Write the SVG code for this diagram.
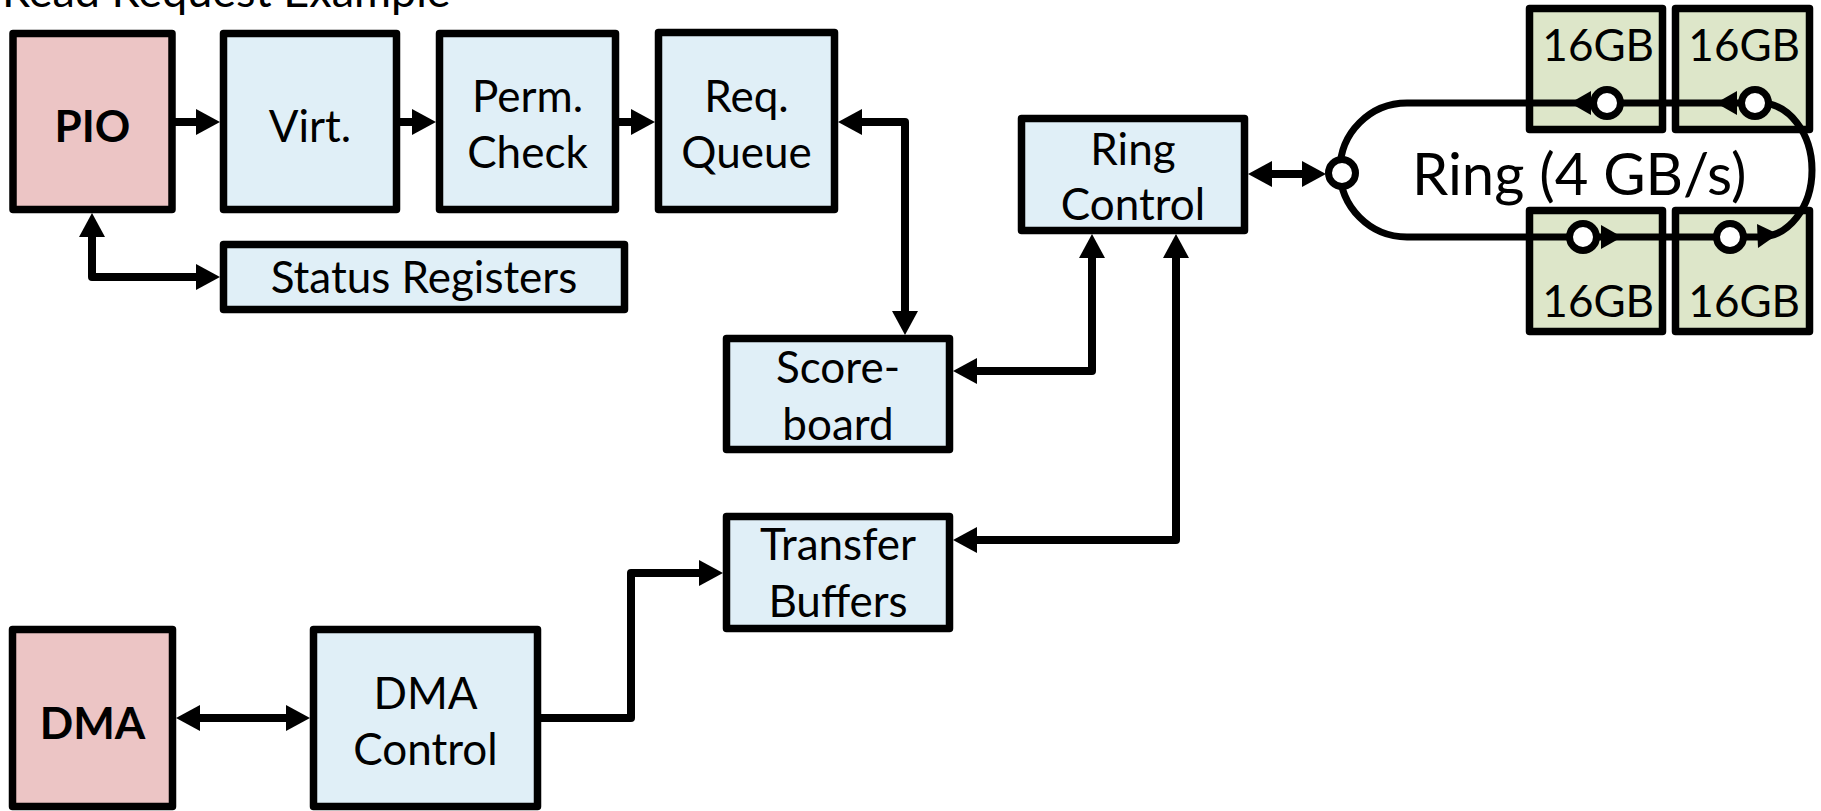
<svg xmlns="http://www.w3.org/2000/svg" width="1821" height="811" viewBox="0 0 1821 811">
<style>
.box{stroke:#000;stroke-width:7.5;stroke-linejoin:round}
.pink{fill:#ecc5c5}
.blue{fill:#e0eff7}
.green{fill:#dde6c9}
.t{font-family:Lato,"Open Sans","Liberation Sans",sans-serif;font-size:44px;fill:#000;text-anchor:middle}
.b{font-weight:bold}
.e{text-anchor:end}
.c{fill:none;stroke:#000;stroke-width:8;stroke-linejoin:round}
.ring{fill:none;stroke:#000;stroke-width:7}
.node{fill:#fff;stroke:#000;stroke-width:7}
</style>
<defs>
<marker id="ah" viewBox="0 0 24 26" refX="10" refY="13" markerWidth="24" markerHeight="26" markerUnits="userSpaceOnUse" orient="auto-start-reverse">
<path d="M0,0 L24,13 L0,26 Z" fill="#000"/>
</marker>
</defs>
<text class="t" x="2" y="7" style="text-anchor:start;font-size:45px">Read Request Example</text>

<g id="connectors">
<path class="c" d="M172 122 H206" marker-end="url(#ah)"/>
<path class="c" d="M397 122 H422" marker-end="url(#ah)"/>
<path class="c" d="M616 122 H641" marker-end="url(#ah)"/>
<path class="c" d="M852 122 H905 V321" marker-start="url(#ah)" marker-end="url(#ah)"/>
<path class="c" d="M92 227 V277 H206" marker-start="url(#ah)" marker-end="url(#ah)"/>
<path class="c" d="M967 371 H1092 V248" marker-start="url(#ah)" marker-end="url(#ah)"/>
<path class="c" d="M967 540 H1176 V248" marker-start="url(#ah)" marker-end="url(#ah)"/>
<path class="c" d="M1262 174 H1312" marker-start="url(#ah)" marker-end="url(#ah)"/>
<path class="c" d="M190 718 H296" marker-start="url(#ah)" marker-end="url(#ah)"/>
<path class="c" d="M538 718 H631 V573 H709" marker-end="url(#ah)"/>
</g>

<g id="pio"><rect class="box pink" x="13" y="33.5" width="159" height="176"/><text class="t b" x="92.5" y="142">PIO</text></g>
<g id="virt"><rect class="box blue" x="223.5" y="33.5" width="173" height="176"/><text class="t" x="310" y="142">Virt.</text></g>
<g id="perm"><rect class="box blue" x="439.5" y="33.5" width="176" height="176"/><text class="t" x="527.5" y="112">Perm.</text><text class="t" x="527.5" y="168">Check</text></g>
<g id="reqq"><rect class="box blue" x="658.5" y="32.5" width="176" height="177"/><text class="t" x="746.5" y="112">Req.</text><text class="t" x="746.5" y="168">Queue</text></g>
<g id="status"><rect class="box blue" x="223.5" y="244.5" width="401" height="65"/><text class="t" x="424" y="293">Status Registers</text></g>
<g id="scoreboard"><rect class="box blue" x="726.5" y="338.5" width="223" height="111"/><text class="t" x="838" y="383">Score-</text><text class="t" x="838" y="440">board</text></g>
<g id="transfer"><rect class="box blue" x="726.5" y="516.5" width="223" height="112"/><text class="t" x="838" y="560">Transfer</text><text class="t" x="838" y="617">Buffers</text></g>
<g id="ringctl"><rect class="box blue" x="1021.5" y="118.5" width="223" height="112"/><text class="t" x="1133" y="165">Ring</text><text class="t" x="1133" y="220">Control</text></g>
<g id="dma"><rect class="box pink" x="12.5" y="629.5" width="160" height="177"/><text class="t b" x="92.5" y="739">DMA</text></g>
<g id="dmactl"><rect class="box blue" x="313.5" y="629.5" width="224" height="177"/><text class="t" x="425.5" y="709">DMA</text><text class="t" x="425.5" y="765">Control</text></g>

<g id="mem-tl"><rect class="box green" x="1529.5" y="8.5" width="133" height="121"/><text class="t e" x="1654" y="61">16GB</text></g>
<g id="mem-tr"><rect class="box green" x="1675.5" y="8.5" width="134" height="121"/><text class="t e" x="1800" y="61">16GB</text></g>
<g id="mem-bl"><rect class="box green" x="1529.5" y="210.5" width="133" height="121"/><text class="t e" x="1654" y="317">16GB</text></g>
<g id="mem-br"><rect class="box green" x="1675.5" y="210.5" width="134" height="121"/><text class="t e" x="1800" y="317">16GB</text></g>

<g id="ring">
<path class="ring" d="M1407 103 H1760 A52 67 0 0 1 1760 237 H1407 A67 67 0 0 1 1407 103 Z"/>
<path d="M1570 103 L1591 91 L1591 115 Z"/>
<path d="M1716 103 L1737 91 L1737 115 Z"/>
<path d="M1622 237 L1601 225 L1601 249 Z"/>
<path d="M1778 234 L1757 224 L1758 248 Z"/>
<circle class="node" cx="1342" cy="173" r="13.5"/>
<circle class="node" cx="1607" cy="103" r="13.5"/>
<circle class="node" cx="1755" cy="103" r="13.5"/>
<circle class="node" cx="1583" cy="237" r="13.5"/>
<circle class="node" cx="1730" cy="237" r="13.5"/>
<text class="t" x="1412" y="195" style="text-anchor:start;font-size:58px">Ring (4 GB/s)</text>
</g>
</svg>
